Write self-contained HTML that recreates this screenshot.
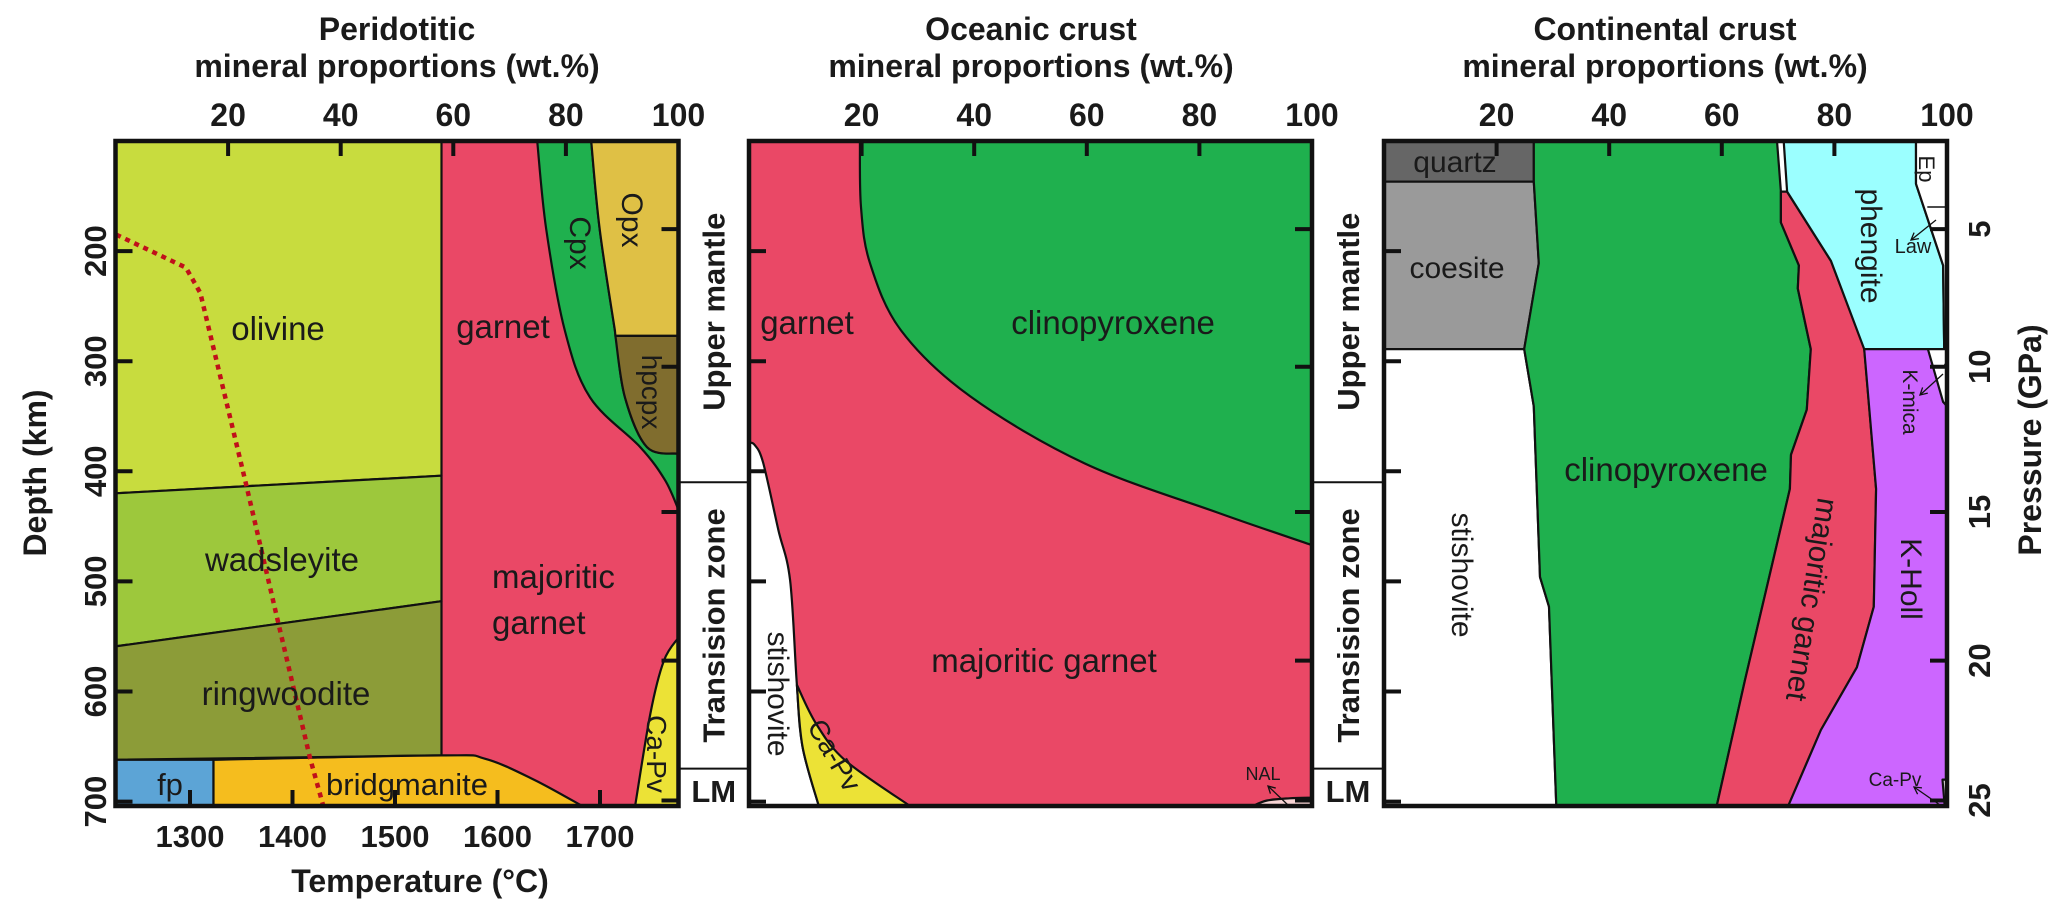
<!DOCTYPE html>
<html><head><meta charset="utf-8"><style>
html,body{margin:0;padding:0;background:#fff}
svg{display:block}
text{font-family:"Liberation Sans",Arial,sans-serif;fill:#1a1a1a}
</style></head><body>
<svg id="fig" width="2067" height="909" viewBox="0 0 2067 909" xmlns="http://www.w3.org/2000/svg"></svg>
<script>
// ---- data ----
const pctTicks=[20,40,60,80,100];
const depthTicks=[200,300,400,500,600,700];
const pressureTicks=[5,10,15,20,25];
const pressureTickDepths=[180,305,437,572,699];
const tempTicks=[1300,1400,1500,1600,1700];
const geoT=[1228,1296,1310,1355,1386,1417,1430];
const geoD=[185,215,238,413,537,660,704];
const zoneNames=["Upper mantle","Transision zone","LM"];
const zoneBounds=[100,410,670,704];
// Panel 1 (peridotite) phases [wt%, depth km]
const p1Olivine=[[0,100],[57.9,100],[57.9,404],[0,420]];
const p1Wadsleyite=[[0,420],[57.9,404],[57.9,518],[0,559]];
const p1Ringwoodite=[[0,559],[57.9,518],[57.9,658],[0,662]];
const p1Fp=[[0,662],[17.4,662],[17.4,704],[0,704]];
const p1Bridgmanite=[[17.4,662],[57.9,658],[65.6,661],[74.3,680],[82.9,704],[17.4,704]];
const p1CpxLeft=[[74.9,100],[76.5,180],[79.8,272],[84.3,333],[93.2,378],[97.6,408],[100,435]];
const p1CpxRight=[[84.5,100],[86,180],[88.7,272],[90.5,333],[94.4,378],[100,384]];
const p1CaPvEdge=[[100,551],[97.4,572],[95,620],[92.3,704]];
const p1OpxEdge=[[84.5,100],[86,180],[88.7,272]];
const p1HpcpxEdge=[[88.8,277],[90.5,333],[94.4,378],[100,384]];
// Panel 2 (oceanic crust)
const p2CpxBoundary=[[19.7,100],[19.9,160],[21.5,211],[27,272],[39.3,332],[59.7,393],[83.5,438],[100,467]];
const p2StishEdge=[[0,374],[1,376],[2.5,392],[5.2,453],[7.3,499],[8.5,594],[9.5,650],[12.4,704]];
const p2CaPvEdge=[[8.5,594],[12,630],[17.2,663],[28.6,704]];
const p2NalEdge=[[89.5,704],[92,699],[96,697],[100,696.5]];
// Panel 3 (continental crust)
const p3Quartz=[[0,100],[26.6,100],[26.6,137],[0,137]];
const p3Coesite=[[0,137],[26.6,137],[27.5,211],[24.9,289],[0,289]];
const p3Stishovite=[[0,289],[24.9,289],[26.6,341],[27.7,496],[29.3,523],[30.6,704],[0,704]];
const p3CpxRight=[[69.8,100],[70.5,146],[70.5,174],[73.7,213],[73.5,234],[75.8,289],[75.1,344],[72.3,385],[72.1,416],[64.1,590],[59.1,704]];
const p3GarnetRight=[[71.6,146],[79.4,209],[85.3,288],[87.4,416],[87.0,523],[84.0,578],[77.6,635],[71.8,704]];
const p3Phengite=[[71,100],[94.5,100],[94.5,139],[99.3,213],[99.5,289],[85.3,289],[79.4,209],[71.6,146]];
const p3Ep=[[94.5,100],[100,100],[100,289],[99.5,289],[99.3,213],[94.5,139]];
const p3KHoll=[[85.3,289],[100,289],[100,704],[71.8,704],[77.6,635],[84.0,578],[87.0,523],[87.4,416]];
const p3KMica=[[96.6,289],[100,289],[100,341],[99.3,337]];
const p3CaPv=[[99.2,680],[100,680],[100,704],[99.6,704]];

// ---- scales ----
const panelLeft=[115.5,749,1384];
const PX=5.63;
const xP=(i,p)=>panelLeft[i]+p*PX;
const yD=d=>141+(d-100)*1.101;
const xT=t=>190+(t-1300)*1.025;
const NS="http://www.w3.org/2000/svg";
const svg=document.getElementById('fig');
function el(tag,attrs,parent){const e=document.createElementNS(NS,tag);for(const k in attrs)e.setAttribute(k,attrs[k]);(parent||svg).appendChild(e);return e;}
function pts(i,arr){return arr.map(q=>xP(i,q[0]).toFixed(1)+','+yD(q[1]).toFixed(1)).join(' ');}
function poly(i,arr,fill,name){const e=el('polygon',{points:pts(i,arr),fill:fill,stroke:'#111','stroke-width':2.2,'stroke-linejoin':'round'});


return e;}
// smooth curve through points (Catmull-Rom) as path segment string
function smooth(i,arr){
  const P=arr.map(q=>[xP(i,q[0]),yD(q[1])]);
  let s='';
  for(let k=0;k<P.length-1;k++){
    const p0=P[k-1]||P[k],p1=P[k],p2=P[k+1],p3=P[k+2]||P[k+1];
    const c1=[p1[0]+(p2[0]-p0[0])/6,p1[1]+(p2[1]-p0[1])/6];
    const c2=[p2[0]-(p3[0]-p1[0])/6,p2[1]-(p3[1]-p1[1])/6];
    s+=' C'+c1[0].toFixed(1)+','+c1[1].toFixed(1)+' '+c2[0].toFixed(1)+','+c2[1].toFixed(1)+' '+p2[0].toFixed(1)+','+p2[1].toFixed(1);
  }
  return s;
}
function L(i,arr){return arr.map(q=>' L'+xP(i,q[0]).toFixed(1)+','+yD(q[1]).toFixed(1)).join('');}
function M(i,q){return 'M'+xP(i,q[0]).toFixed(1)+','+yD(q[1]).toFixed(1);}
function path(d,fill,name){const e=el('path',{d:d+' Z',fill:fill,stroke:'#111','stroke-width':2.2,'stroke-linejoin':'round'});


return e;}
const rev=a=>a.slice().reverse();

const C={ol:'#c8dc3e',wad:'#9dc83c',rw:'#8c9c38',gt:'#ea4866',cpx:'#1fb04e',opx:'#dfc045',hp:'#806d2e',fp:'#5ca4d6',bdg:'#f5bd1e',capv:'#ece236',qz:'#666666',coe:'#9a9a9a',phg:'#9bffff',kh:'#cc66ff',nal:'#f7d4d4'};

// ---- panel 1 ----
el('rect',{x:xP(0,0),y:yD(100),width:100*PX,height:yD(704)-yD(100),fill:C.gt});
poly(0,p1Olivine,C.ol,'olivine-field');
poly(0,p1Wadsleyite,C.wad,'wadsleyite-field');
poly(0,p1Ringwoodite,C.rw,'ringwoodite-field');
poly(0,p1Fp,C.fp,'ferropericlase-field');
path(M(0,p1Bridgmanite[0])+smooth(0,p1Bridgmanite.slice(0,5))+L(0,[[17.4,704]]),C.bdg,'bridgmanite-field');
path(M(0,p1CpxLeft[0])+smooth(0,p1CpxLeft)+L(0,[p1CpxRight[5]])+smooth(0,rev(p1CpxRight)),C.cpx,'cpx-field');
path(M(0,p1OpxEdge[0])+L(0,[[100,100],[100,277],[88.8,277],[88.7,272]])+smooth(0,rev(p1OpxEdge)),C.opx,'opx-field');
path(M(0,p1HpcpxEdge[0])+L(0,[[100,277],[100,384]])+smooth(0,rev(p1HpcpxEdge)),C.hp,'hpcpx-field');
path(M(0,p1CaPvEdge[0])+smooth(0,p1CaPvEdge)+L(0,[[100,704]]),C.capv,'ca-pv-field-1');
// geotherm
const gp=el('polyline',{points:geoT.map((t,k)=>xT(t).toFixed(1)+','+yD(geoD[k]).toFixed(1)).join(' '),fill:'none',stroke:'#c0101a','stroke-width':4.5,'stroke-dasharray':'5 5'});



// ---- panel 2 ----
el('rect',{x:xP(1,0),y:yD(100),width:100*PX,height:yD(704)-yD(100),fill:C.gt});
path(M(1,p2CpxBoundary[0])+smooth(1,p2CpxBoundary)+L(1,[[100,100]]),C.cpx,'clinopyroxene-field-2');
path(M(1,p2StishEdge[0])+smooth(1,p2StishEdge)+L(1,[[0,704]]),'#ffffff','stishovite-field-2');
path(M(1,p2CaPvEdge[0])+smooth(1,p2CaPvEdge)+L(1,[[12.4,704]])+smooth(1,[[12.4,704],[9.5,650],[8.5,594]]),C.capv,'ca-pv-field-2');
path(M(1,p2NalEdge[0])+smooth(1,p2NalEdge)+L(1,[[100,704]]),C.nal,'nal-field');

// ---- panel 3 ----
el('rect',{x:xP(2,0),y:yD(100),width:100*PX,height:yD(704)-yD(100),fill:'#fff'});
poly(2,p3Quartz,C.qz,'quartz-field');
poly(2,p3Coesite,C.coe,'coesite-field');
poly(2,p3Stishovite,'#ffffff','stishovite-field-3');
poly(2,[[26.6,100],[26.6,137],[27.5,211],[24.9,289],[26.6,341],[27.7,496],[29.3,523],[30.6,704]].concat(rev(p3CpxRight)),C.cpx,'clinopyroxene-field-3');
poly(2,[[70.5,146]].concat(p3CpxRight.slice(1)).concat(rev(p3GarnetRight)),C.gt,'majoritic-garnet-field-3');
poly(2,p3Phengite,C.phg,'phengite-field');
poly(2,p3Ep,'#ffffff','epidote-field');
poly(2,p3KHoll,C.kh,'k-hollandite-field');
poly(2,p3KMica,'#ffffff','k-mica-field');
poly(2,p3CaPv,'#ffffff','ca-pv-field-3');
function line(x1,y1,x2,y2,w,name){const l=el('line',{x1:x1,y1:y1,x2:x2,y2:y2,stroke:'#111','stroke-width':w||2});


return l;}
line(xP(2,96.5),yD(160),xP(2,100),yD(160),1.5,'ep-law-divider');
line(xP(2,99.5),yD(303),xP(2,100),yD(303),1.5,'k-mica-divider');

function txt(x,y,s,size,opts){opts=opts||{};const t=el('text',{x:x,y:y,'font-size':size,'text-anchor':opts.anchor||'middle'});
if(opts.bold)t.setAttribute('font-weight','bold');
if(opts.rot!==undefined)t.setAttribute('transform','rotate('+opts.rot+' '+x+' '+y+')');
if(opts.fill)t.setAttribute('fill',opts.fill);
t.textContent=s;


return t;}

// ---- frames, ticks ----
const Y0=yD(100),Y1=yD(704);
for(let i=0;i<3;i++){
  const x0=xP(i,0),x1=xP(i,100);
  const r=el('rect',{x:x0,y:Y0,width:x1-x0,height:Y1-Y0,fill:'none',stroke:'#111','stroke-width':4.5});
  
  
  pctTicks.forEach(p=>{
    if(p<100)line(xP(i,p),Y0,xP(i,p),Y0+15,4,'top-tick');
    txt(xP(i,p),126,String(p),32,{bold:1,name:'top-tick-label'});
  });
  depthTicks.forEach(d=>line(x0,yD(d),x0+17,yD(d),4,'depth-tick'));
  pressureTickDepths.forEach(d=>line(x1-17,yD(d),x1,yD(d),4,'pressure-tick'));
}
tempTicks.forEach(t=>{line(xT(t),Y1,xT(t),Y1-16,4,'temperature-tick');txt(xT(t),847,String(t),31,{bold:1,name:'temperature-tick-label'});});
depthTicks.forEach(d=>txt(106,yD(d),String(d),31,{bold:1,rot:-90,name:'depth-tick-label'}));
pressureTicks.forEach((p,k)=>txt(1990,yD(pressureTickDepths[k]),String(p),31,{bold:1,rot:-90,name:'pressure-tick-label'}));

// zone columns
[[xP(0,100),xP(1,0)],[xP(1,100),xP(2,0)]].forEach(c=>{
  const cx=(c[0]+c[1])/2;
  line(c[0],yD(zoneBounds[1]),c[1],yD(zoneBounds[1]),2,'zone-divider');
  line(c[0],yD(zoneBounds[2]),c[1],yD(zoneBounds[2]),2,'zone-divider');
  txt(cx+11,(yD(zoneBounds[0])+yD(zoneBounds[1]))/2,zoneNames[0],31,{bold:1,rot:-90,name:'upper-mantle-label'});
  txt(cx+11,(yD(zoneBounds[1])+yD(zoneBounds[2]))/2,zoneNames[1],31,{bold:1,rot:-90,name:'transition-zone-label'});
  txt(cx,802,zoneNames[2],31,{bold:1,name:'lower-mantle-label'});
});

// titles
[['Peridotitic',397],['Oceanic crust',1031],['Continental crust',1665]].forEach(t=>{
  txt(t[1],40,t[0],32,{bold:1,name:'panel-title'});
  txt(t[1],77,'mineral proportions (wt.%)',32,{bold:1,name:'panel-subtitle'});
});
txt(46,473,'Depth (km)',32,{bold:1,rot:-90,name:'y-axis-title'});
txt(2041,440,'Pressure (GPa)',32,{bold:1,rot:-90,name:'right-axis-title'});
txt(420,892,'Temperature (°C)',32,{bold:1,name:'x-axis-title'});

// phase labels
txt(278,340,'olivine',33,{name:'olivine-label'});
txt(282,571,'wadsleyite',33,{name:'wadsleyite-label'});
txt(286,705,'ringwoodite',33,{name:'ringwoodite-label'});
txt(170,795,'fp',31,{name:'fp-label'});
txt(407,795,'bridgmanite',31,{name:'bridgmanite-label'});
txt(503,338,'garnet',33,{name:'garnet-label-1'});
txt(492,588,'majoritic',33,{anchor:'start',name:'majoritic-garnet-label-1'});
txt(492,634,'garnet',33,{anchor:'start',name:'majoritic-garnet-label-1b'});
txt(570,243,'Cpx',30,{rot:90,name:'cpx-label'});
txt(622,220,'Opx',30,{rot:90,name:'opx-label'});
txt(642,392,'hpcpx',28,{rot:90,fill:'#fff',name:'hpcpx-label'});
txt(647,754,'Ca-Pv',28,{rot:90,name:'ca-pv-label-1'});
txt(807,334,'garnet',33,{name:'garnet-label-2'});
txt(1113,334,'clinopyroxene',33,{name:'clinopyroxene-label-2'});
txt(1044,672,'majoritic garnet',33,{name:'majoritic-garnet-label-2'});
txt(768,694,'stishovite',30,{rot:90,name:'stishovite-label-2'});
txt(826,760,'Ca-Pv',28,{rot:60,name:'ca-pv-label-2'});
txt(1263,780,'NAL',18,{name:'nal-label'});
txt(1455,172,'quartz',30,{fill:'#fff',name:'quartz-label'});
txt(1457,278,'coesite',30,{name:'coesite-label'});
txt(1452,575,'stishovite',30,{rot:90,name:'stishovite-label-3'});
txt(1666,481,'clinopyroxene',33,{name:'clinopyroxene-label-3'});
txt(1802,598,'majoritic garnet',30,{rot:99,name:'majoritic-garnet-label-3'});
txt(1861,246,'phengite',30,{rot:90,name:'phengite-label'});
txt(1919,169,'Ep',22,{rot:90,name:'ep-label'});
txt(1913,253,'Law',20,{name:'lawsonite-label'});
txt(1903,402,'K-mica',21,{rot:90,name:'k-mica-label'});
txt(1901,579,'K-Holl',30,{rot:90,name:'k-hollandite-label'});
txt(1895,786,'Ca-Pv',19,{name:'ca-pv-label-3'});
// arrows
[[1936,220,1911,240],[1943,374,1920,395],[1940,805,1914,787],[1289,806,1268,786]].forEach(a=>{
  line(a[0],a[1],a[2],a[3],1.3,'pointer-arrow');
  const ang=Math.atan2(a[3]-a[1],a[2]-a[0]);
  const h=el('polyline',{points:[[a[2]-8*Math.cos(ang-0.5),a[3]-8*Math.sin(ang-0.5)],[a[2],a[3]],[a[2]-8*Math.cos(ang+0.5),a[3]-8*Math.sin(ang+0.5)]].map(q=>q.join(',')).join(' '),fill:'none',stroke:'#111','stroke-width':1.3});
  
  
});
</script>
</body></html>
